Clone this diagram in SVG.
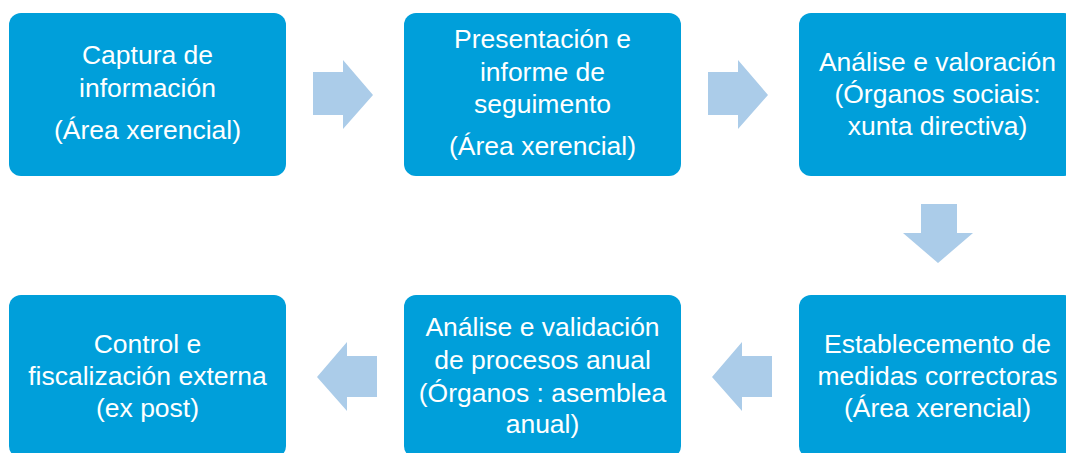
<svg xmlns="http://www.w3.org/2000/svg" width="1066" height="453" viewBox="0 0 1066 453">
<style>
.box{fill:#009FDA}
.arr{fill:#ABCCE9}
text{font-family:"Liberation Sans",Arial,sans-serif;font-size:26.5px;fill:#ffffff;text-anchor:middle}
</style>
<rect width="1066" height="453" fill="#ffffff"/>
<g id="connectors">
<polygon class="arr" points="313,72 343,72 343,60 373,95 343,129 343,115 313,115"/>
<polygon class="arr" points="708,72 738,72 738,60 768,95 738,129 738,115 708,115"/>
<polygon class="arr" points="921,204 957,204 957,233 973,233 938,263 903,233 921,233"/>
<polygon class="arr" points="742,356 772,356 772,397 742,397 742,411 712,377 742,342"/>
<polygon class="arr" points="347,356 377,356 377,397 347,397 347,411 317,377 347,342"/>
</g>
<g id="node1">
<rect class="box" x="9" y="13" width="277" height="163" rx="12"/>
<text x="147.5" y="64">Captura de</text>
<text x="147.5" y="97">información</text>
<text x="147.5" y="139">(Área xerencial)</text>
</g>
<g id="node2">
<rect class="box" x="404" y="13" width="277" height="163" rx="12"/>
<text x="542.5" y="48">Presentación e</text>
<text x="542.5" y="81">informe de</text>
<text x="542.5" y="113">seguimento</text>
<text x="542.5" y="155">(Área xerencial)</text>
</g>
<g id="node3">
<rect class="box" x="799" y="13" width="277" height="163" rx="12"/>
<text x="937.5" y="71">Análise e valoración</text>
<text x="937.5" y="103">(Órganos sociais:</text>
<text x="937.5" y="135">xunta directiva)</text>
</g>
<g id="node4">
<rect class="box" x="799" y="295" width="277" height="163" rx="12"/>
<text x="937.5" y="353">Establecemento de</text>
<text x="937.5" y="385">medidas correctoras</text>
<text x="937.5" y="417">(Área xerencial)</text>
</g>
<g id="node5">
<rect class="box" x="404" y="295" width="277" height="163" rx="12"/>
<text x="542.5" y="336">Análise e validación</text>
<text x="542.5" y="369">de procesos anual</text>
<text x="542.5" y="402">(Órganos : asemblea</text>
<text x="542.5" y="433">anual)</text>
</g>
<g id="node6">
<rect class="box" x="9" y="295" width="277" height="163" rx="12"/>
<text x="147.5" y="353">Control e</text>
<text x="147.5" y="385">fiscalización externa</text>
<text x="147.5" y="417">(ex post)</text>
</g>
</svg>
